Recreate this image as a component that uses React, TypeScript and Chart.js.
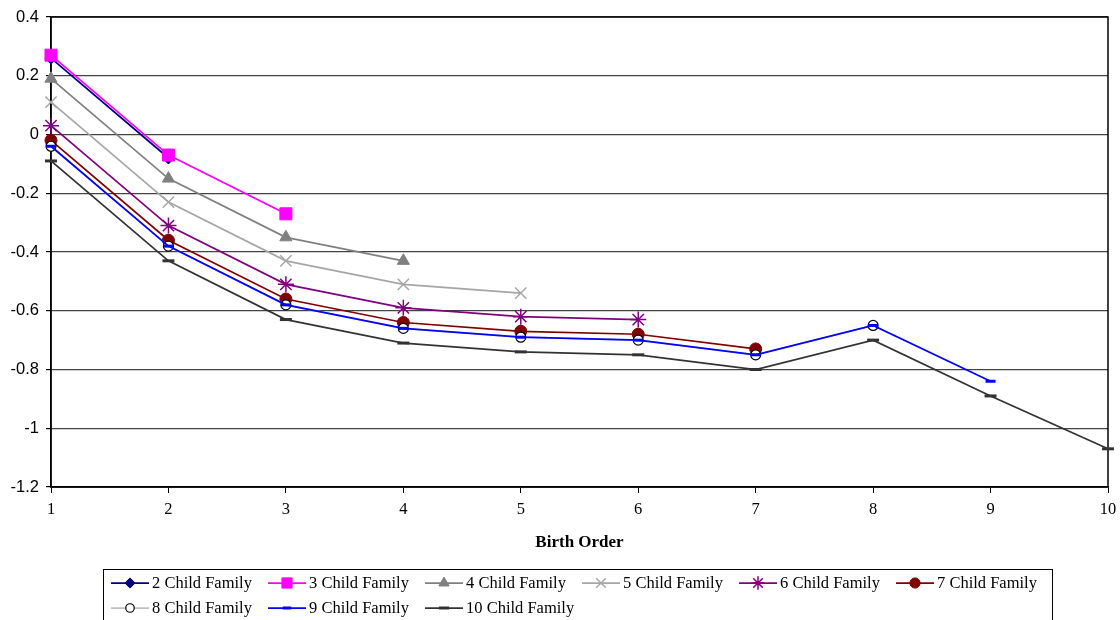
import React, { useEffect, useRef } from 'react';
import { Chart, registerables } from 'chart.js';
import { drawPoint } from 'chart.js/helpers';

Chart.register(...registerables);

const birthOrder = [1, 2, 3, 4, 5, 6, 7, 8, 9, 10];
const yTicks = [0.4, 0.2, 0, -0.2, -0.4, -0.6, -0.8, -1, -1.2];
const seriesNames = [
  '2 Child Family',
  '3 Child Family',
  '4 Child Family',
  '5 Child Family',
  '6 Child Family',
  '7 Child Family',
  '8 Child Family',
  '9 Child Family',
  '10 Child Family',
];
const child2 = [0.26, -0.08];
const child3 = [0.27, -0.07, -0.27];
const child4 = [0.19, -0.15, -0.35, -0.43];
const child5 = [0.11, -0.23, -0.43, -0.51, -0.54];
const child6 = [0.03, -0.31, -0.51, -0.59, -0.62, -0.63];
const child7 = [-0.02, -0.36, -0.56, -0.64, -0.67, -0.68, -0.73];
const child8 = [-0.04, -0.38, -0.58, -0.66, -0.69, -0.7, -0.75, -0.65];
const child9 = [-0.04, -0.38, -0.58, -0.66, -0.69, -0.7, -0.75, -0.65, -0.84];
const child10 = [-0.09, -0.43, -0.63, -0.71, -0.74, -0.75, -0.8, -0.7, -0.89, -1.07];
const seriesValues = [child2, child3, child4, child5, child6, child7, child8, child9, child10];

const styles = [
  { line: '#000080', fill: '#000080', stroke: '#000080', shape: 'rectRot', r: 6, bw: 1 },
  { line: '#FF00FF', fill: '#FF00FF', stroke: '#FF00FF', shape: 'rect', r: 8.5, bw: 1 },
  { line: '#808080', fill: '#808080', stroke: '#808080', shape: 'triangle', r: 7, bw: 1 },
  { line: '#A6A6A6', fill: 'rgba(0,0,0,0)', stroke: '#A6A6A6', shape: 'crossRot', r: 8, bw: 1.5 },
  { line: '#800080', fill: 'rgba(0,0,0,0)', stroke: '#800080', shape: 'star', r: 8, bw: 1.5 },
  { line: '#800000', fill: '#800000', stroke: '#800000', shape: 'circle', r: 6, bw: 1 },
  { line: '#C0C0C0', fill: '#FFFFFF', stroke: '#000000', shape: 'circle', r: 5, bw: 1.2 },
  { line: '#0000FF', fill: '#0000FF', stroke: '#0000FF', shape: 'line', r: 5, bw: 3 },
  { line: '#333333', fill: '#333333', stroke: '#333333', shape: 'line', r: 6, bw: 3 },
];

const frameAndLegend = {
  id: 'frameAndLegend',
  beforeDatasetsDraw(chart: any) {
    const { ctx, chartArea } = chart;
    ctx.save();
    ctx.strokeStyle = '#000';
    ctx.lineWidth = 1.5;
    ctx.strokeRect(chartArea.left, chartArea.top, chartArea.right - chartArea.left, chartArea.bottom - chartArea.top);
    ctx.restore();
  },
  afterDraw(chart: any) {
    const ctx = chart.ctx;
    ctx.save();
    ctx.strokeStyle = '#000';
    ctx.lineWidth = 1;
    ctx.strokeRect(103.5, 569.5, 949, 70);
    ctx.font = '16.5px "Liberation Serif", "Times New Roman", serif';
    ctx.textBaseline = 'middle';
    ctx.textAlign = 'left';
    seriesNames.forEach((name, i) => {
      const s = styles[i];
      const col = i % 6;
      const row = Math.floor(i / 6);
      const cx = 130 + col * 157;
      const cy = 583 + row * 25;
      ctx.strokeStyle = s.line;
      ctx.lineWidth = 1.75;
      ctx.beginPath();
      ctx.moveTo(cx - 19, cy);
      ctx.lineTo(cx + 19, cy);
      ctx.stroke();
      ctx.fillStyle = s.fill;
      ctx.strokeStyle = s.stroke;
      ctx.lineWidth = s.bw;
      drawPoint(ctx, { pointStyle: s.shape, radius: s.r * 0.85, borderWidth: s.bw, rotation: 0 } as any, cx, cy);
      ctx.fillStyle = '#000';
      ctx.fillText(name, cx + 22, cy + 1);
    });
    ctx.restore();
  },
};

export default function App() {
  const canvasRef = useRef<HTMLCanvasElement | null>(null);

  useEffect(() => {
    if (!canvasRef.current) return;
    const datasets = seriesValues.map((vals, i) => {
      const s = styles[i];
      return {
        label: seriesNames[i],
        data: vals.map((v, j) => ({ x: birthOrder[j], y: v })),
        borderColor: s.line,
        borderWidth: 1.75,
        backgroundColor: s.fill,
        pointBackgroundColor: s.fill,
        pointBorderColor: s.stroke,
        pointBorderWidth: s.bw,
        pointStyle: s.shape,
        pointRadius: s.r,
        pointHoverRadius: s.r,
        tension: 0,
        fill: false,
        clip: false,
        order: 20 - i,
      };
    });

    const chart = new Chart(canvasRef.current, {
      type: 'line',
      data: { datasets: datasets as any },
      plugins: [frameAndLegend],
      options: {
        animation: false,
        responsive: false,
        events: [],
        layout: { padding: { top: 17, right: 12, bottom: 65, left: 0 } },
        plugins: { legend: { display: false }, tooltip: { enabled: false } },
        scales: {
          x: {
            type: 'linear',
            min: 1,
            max: 10,
            afterBuildTicks: (scale: any) => {
              scale.ticks = birthOrder.map((v) => ({ value: v }));
            },
            afterFit: (scale: any) => {
              scale.height = 68;
              scale.paddingLeft = 0;
              scale.paddingRight = 0;
            },
            ticks: {
              color: '#000',
              padding: 7,
              font: { family: '"Liberation Serif", "Times New Roman", serif', size: 16.5 },
              callback: (v: any) => String(v),
            },
            grid: { drawOnChartArea: false, drawTicks: true, tickLength: 6, color: '#000' },
            border: { display: true, color: '#000', width: 1.5 },
            title: {
              display: true,
              text: 'Birth Order',
              color: '#000',
              padding: { top: 0, bottom: 2 },
              font: { family: '"Liberation Serif", "Times New Roman", serif', size: 17, weight: 'bold' },
            },
          },
          y: {
            type: 'linear',
            min: -1.2,
            max: 0.4,
            afterBuildTicks: (scale: any) => {
              scale.ticks = yTicks.map((v) => ({ value: v }));
            },
            afterFit: (scale: any) => {
              scale.width = 51;
              scale.paddingTop = 0;
              scale.paddingBottom = 0;
            },
            ticks: {
              color: '#000',
              padding: 7,
              font: { family: '"Liberation Sans", Arial, sans-serif', size: 16.5 },
              callback: (v: any) => String(Math.round(Number(v) * 10) / 10),
            },
            grid: { color: '#444', lineWidth: 1.2, drawTicks: true, tickLength: 5, tickColor: '#000' },
            border: { display: true, color: '#000', width: 1.5 },
          },
        },
      } as any,
    });
    return () => chart.destroy();
  }, []);

  return (
    <div style={{ position: 'fixed', left: 0, top: 0, width: 1120, height: 620, background: '#fff' }}>
      <canvas ref={canvasRef} width={1120} height={620} style={{ width: 1120, height: 620, display: 'block' }} />
    </div>
  );
}
